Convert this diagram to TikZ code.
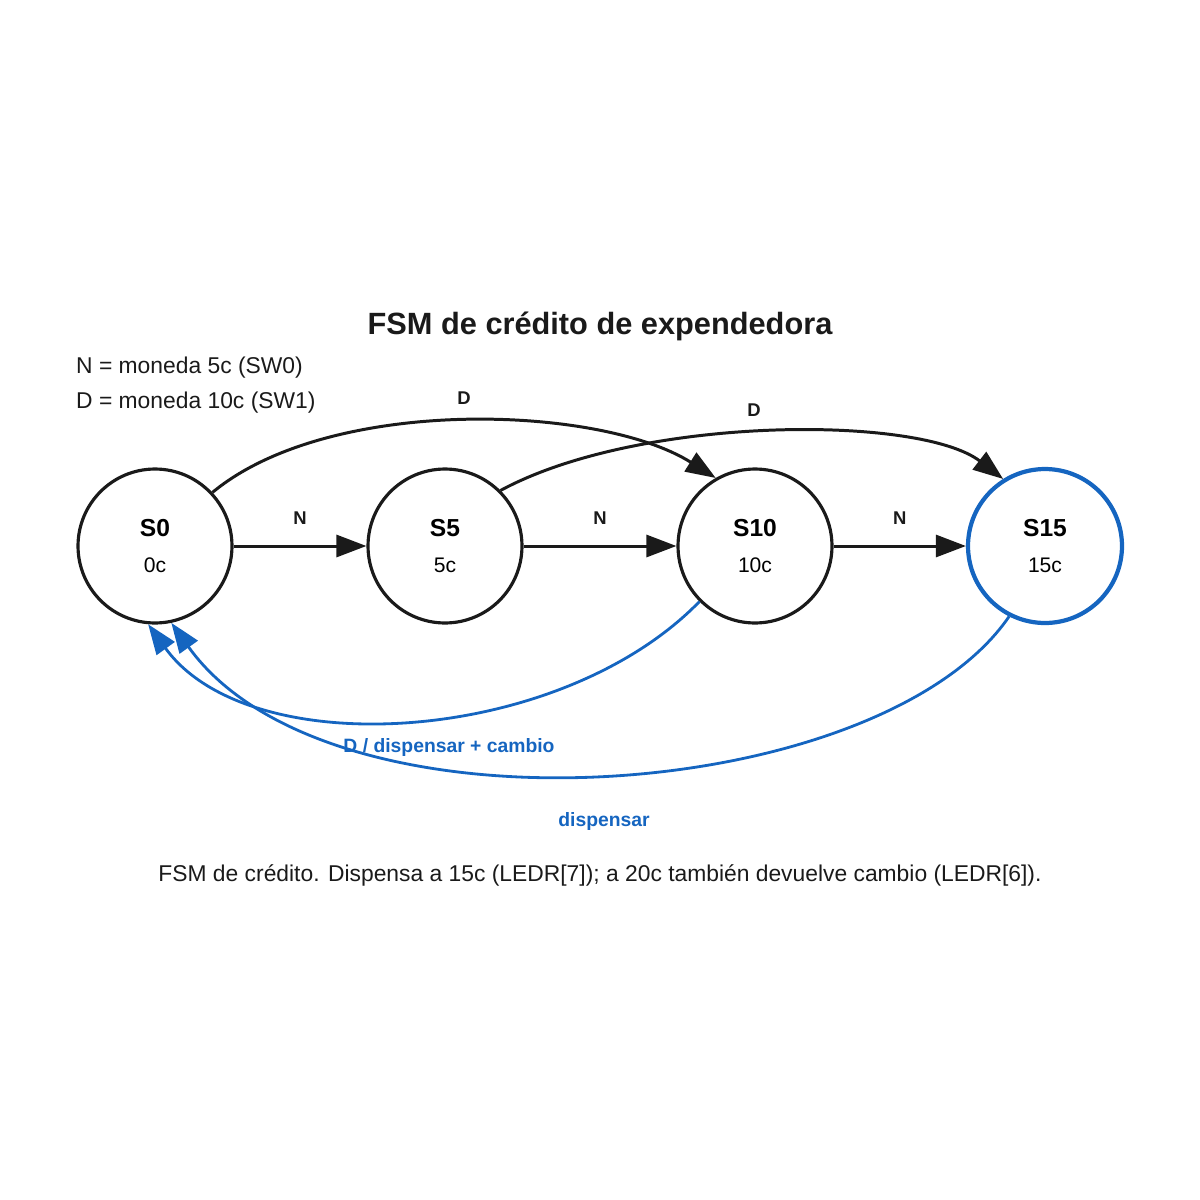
\documentclass[tikz,border=0pt]{standalone}
\usepackage{fontspec}
\setmainfont{Liberation Sans}
\usetikzlibrary{arrows.meta,positioning}
\definecolor{ink}{HTML}{1A1A1A}
\definecolor{accent}{HTML}{1565C0}
\tikzset{
  state/.style={circle,draw=ink,line width=1.8pt,minimum size=3.08cm,inner sep=0pt,align=center},
  tr/.style={draw=ink,line width=1.7pt,-{Triangle[length=6mm,width=4.4mm]}},
  back/.style={draw=accent,line width=1.6pt,-{Triangle[length=6mm,width=4.4mm]}},
  lbl/.style={font=\bfseries\fontsize{10.5}{12}\selectfont,text=ink},
  blbl/.style={font=\bfseries\fontsize{11}{13}\selectfont,text=accent}
}
\newcommand{\st}[2]{{\fontsize{14}{16}\selectfont\bfseries #1}\\[3mm]{\fontsize{12}{14}\selectfont #2}}
\begin{document}
\begin{tikzpicture}[x=0.02cm,y=-0.02cm]
\useasboundingbox (0,0) rectangle (1200,1200);

\node[font=\bfseries\fontsize{17.5}{20}\selectfont,text=ink] (title) at (600,326) {FSM de crédito de expendedora};
\node[anchor=west,font=\fontsize{13}{15}\selectfont,text=ink] (leyN) at (70,368) {N = moneda 5c (SW0)};
\node[anchor=west,font=\fontsize{13}{15}\selectfont,text=ink] (leyD) at (70,403) {D = moneda 10c (SW1)};

% estados
\node[state] (s0) at (155,546) {\st{S0}{0c}};
\node[state] (s5) at (445,546) {\st{S5}{5c}};
\node[state] (s10) at (755,546) {\st{S10}{10c}};
\node[state,draw=accent,line width=2.4pt] (s15) at (1045,546) {\st{S15}{15c}};

% monedas de 5c
\draw[tr] (s0) -- (s5) node[lbl,midway,above=2.8mm] (n1) {N};
\draw[tr] (s5) -- (s10) node[lbl,midway,above=2.8mm] (n2) {N};
\draw[tr] (s10) -- (s15) node[lbl,midway,above=2.8mm] (n3) {N};

% monedas de 10c
\draw[tr] (s0.43) .. controls (330,395) and (600,405) .. (s10.120);
\node[lbl] (d1) at (464,398) {D};
\draw[tr] (s5.45) .. controls (640,415) and (920,415) .. (s15.122);
\node[lbl] (d2) at (754,410) {D};

% vuelta a S0
\draw[back] (s10.225) .. controls (560,745) and (250,765) .. (s0.265);
\node[blbl] (b1) at (449,747) {D / dispensar + cambio};
\draw[back] (s15.243) .. controls (880,805) and (330,845) .. (s0.282);
\node[blbl] (b2) at (604,821) {dispensar};

\node[font=\fontsize{13}{15}\selectfont,text=ink] (cap) at (600,875) {FSM de crédito. Dispensa a 15c (LEDR[7]); a 20c también devuelve cambio (LEDR[6]).};
\end{tikzpicture}
\end{document}
